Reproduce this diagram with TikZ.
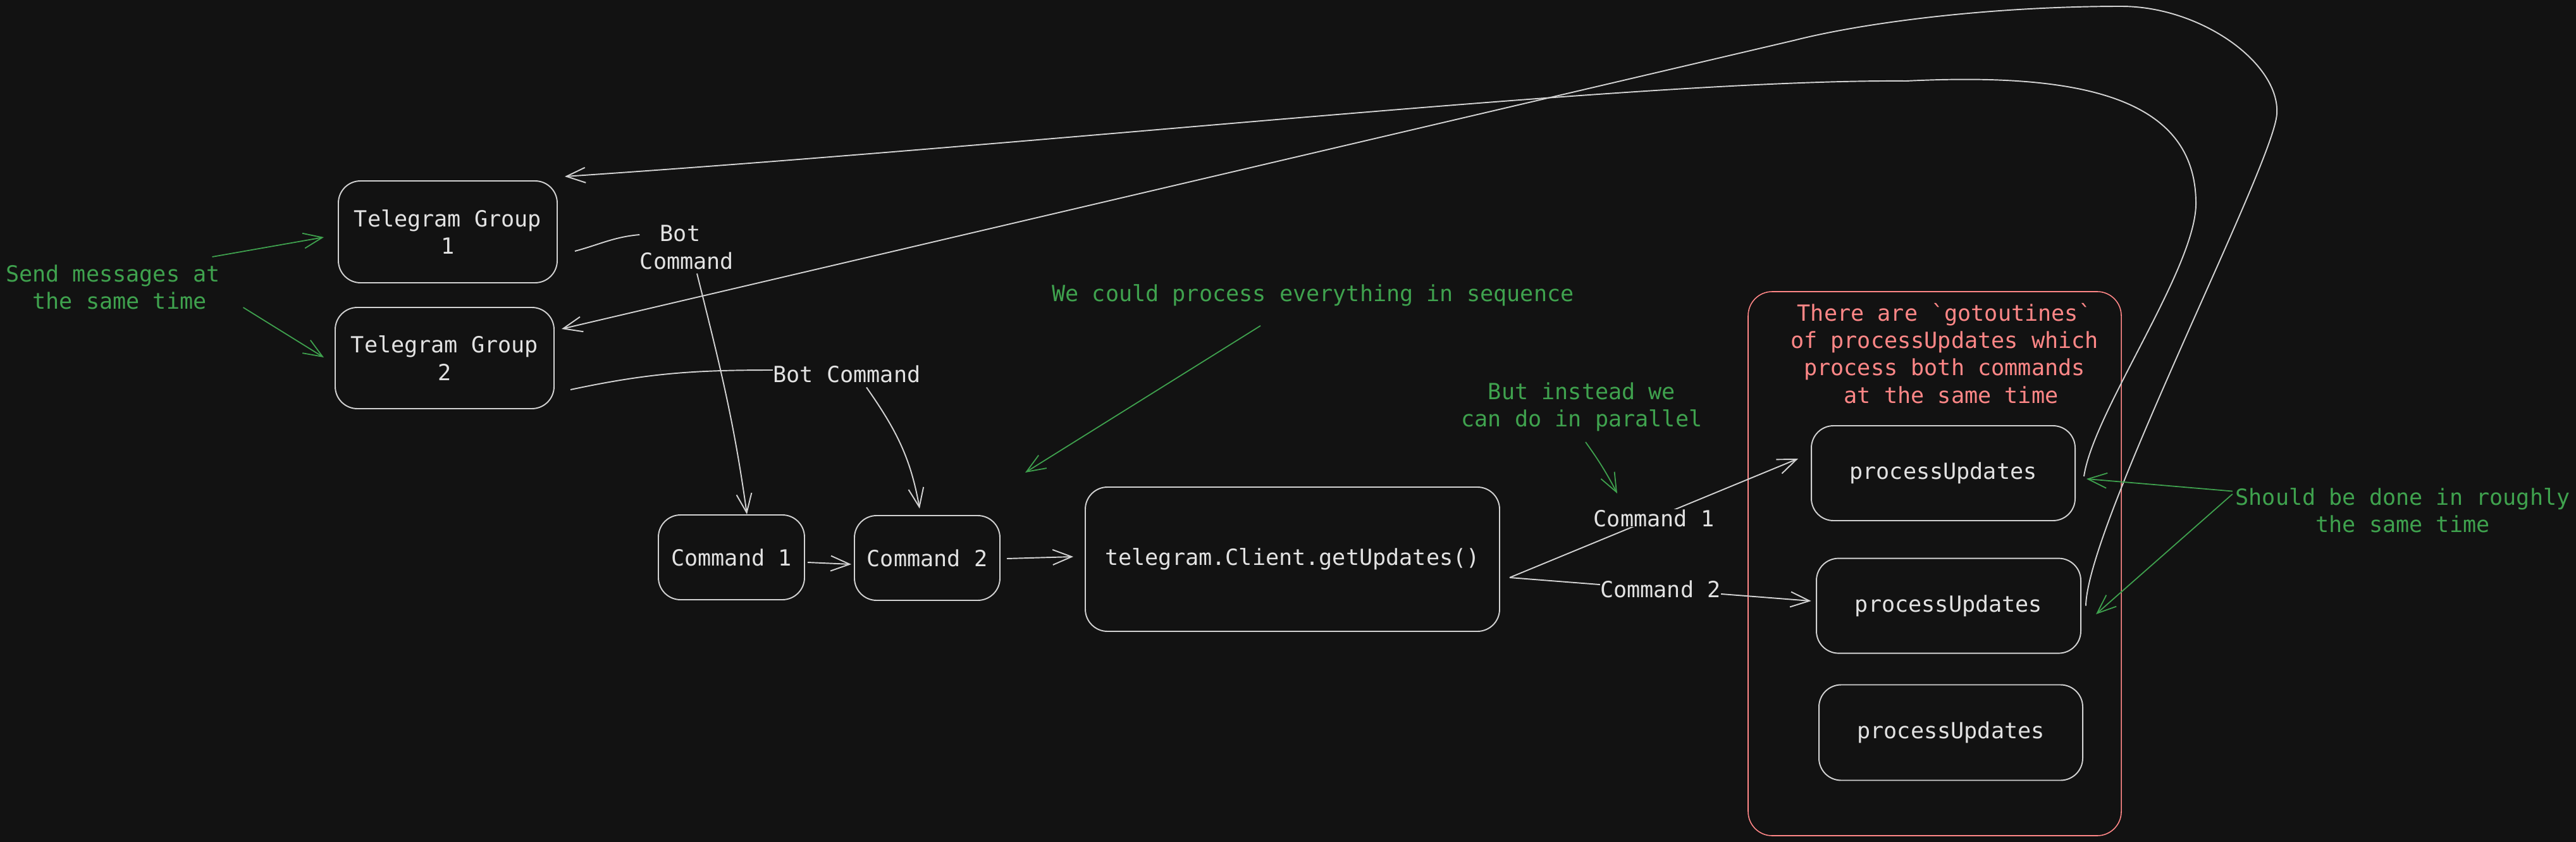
\documentclass[tikz,border=0pt]{standalone}
\usepackage{fontspec}
\setmonofont{DejaVu Sans Mono}
\usetikzlibrary{arrows.meta}
\definecolor{bg}{HTML}{121212}
\definecolor{ink}{HTML}{E2E2E2}
\definecolor{edge}{HTML}{D2D2D2}
\definecolor{note}{HTML}{3FA24E}
\definecolor{warn}{HTML}{FF8787}
\begin{document}
\begin{tikzpicture}[
    font=\ttfamily\fontsize{10}{12.3}\selectfont,
    box/.style={draw=edge, line width=0.55pt, rounded corners=0.35cm, text=ink, align=center},
    group/.style={draw=warn, line width=0.45pt, rounded corners=0.38cm},
    lbl/.style={text=ink, inner sep=0pt, align=center},
    onedge/.style={lbl, fill=bg},
    notetext/.style={text=note, inner sep=0pt, align=center},
    warntext/.style={text=warn, inner sep=0pt, align=center},
    link/.style={draw=edge, line width=0.55pt},
    arr/.style={link, -{Straight Barb[length=3mm,width=2.4mm]}},
    notearr/.style={draw=note, line width=0.5pt, -{Straight Barb[length=3mm,width=2.4mm]}}
  ]
      \useasboundingbox (0,0) rectangle (40.73,-13.31);
      \fill[bg] (0,0) rectangle (40.73,-13.31);
      % groups and commands
      \node[box, minimum width=3.46cm, minimum height=1.61cm] (tg1) at (7.08,-3.665) {Telegram Group\\1};
      \node[box, minimum width=3.46cm, minimum height=1.60cm] (tg2) at (7.03,-5.66) {Telegram Group\\2};
      \node[box, minimum width=2.31cm, minimum height=1.34cm] (cmd1) at (11.565,-8.81) {Command 1};
      \node[box, minimum width=2.30cm, minimum height=1.34cm] (cmd2) at (14.66,-8.82) {Command 2};
      \node[box, minimum width=6.55cm, minimum height=2.28cm] (gu) at (20.435,-8.84) {telegram.Client.getUpdates()};
      % goroutines
      \node[group, minimum width=5.90cm, minimum height=8.60cm] (grp) at (30.59,-8.91) {};
      \node[warntext] (grptxt) at (30.745,-5.585) {There are `gotoutines`\\of processUpdates which\\process both commands\\\phantom{x}at the same time};
      \node[box, minimum width=4.17cm, minimum height=1.50cm] (pu1) at (30.725,-7.48) {processUpdates};
      \node[box, minimum width=4.18cm, minimum height=1.50cm] (pu2) at (30.81,-9.576) {processUpdates};
      \node[box, minimum width=4.17cm, minimum height=1.51cm] (pu3) at (30.845,-11.58) {processUpdates};
      % labels and notes
      \node[lbl] (botA) at (10.86,-3.91) {Bot\phantom{x}\\Command};
      \node[lbl] (botB) at (13.39,-5.91) {Bot Command};
      \node[notetext] (send) at (1.89,-4.54) {Send messages at\phantom{x}\\the same time};
      \node[notetext] (seq) at (20.76,-4.67) {We could process everything in sequence};
      \node[notetext] (par) at (25.01,-6.435) {But instead we\\can do in parallel};
      \node[notetext] (should) at (37.99,-8.065) {Should be done in roughly\\the same time};
      \coordinate (seqtip) at (16.21,-7.47);
      \coordinate (partip) at (25.57,-7.80);
      \coordinate (fork) at ([shift={(0.15,-0.29)}]gu.east);
      % bot commands
      \draw[link] ([shift={(0.27,-0.305)}]tg1.east) to[out=15,in=185] ([yshift=0.2cm]botA.west);
      \draw[arr] ([shift={(0.16,-0.06)}]botA.south) to[out=-76,in=98] ([xshift=0.245cm]cmd1.north);
      \draw[link] ([shift={(0.25,-0.5)}]tg2.east) to[out=12,in=180] ([yshift=0.06cm]botB.west);
      \draw[arr] ([shift={(0.31,-0.07)}]botB.south) to[out=-55,in=100] ([shift={(-0.12,0.1)}]cmd2.north);
      \draw[arr] ([shift={(0.04,-0.08)}]cmd1.east) -- ([shift={(-0.04,-0.10)}]cmd2.west);
      \draw[arr] ([shift={(0.10,-0.01)}]cmd2.east) -- ([shift={(-0.18,0.04)}]gu.west);
      % parallel
      \draw[arr] (fork) -- node[onedge] {Command 1} ([shift={(-0.2,0.23)}]pu1.west);
      \draw[arr] (fork) -- node[onedge] {Command 2} ([shift={(-0.075,0.076)}]pu2.west);
      % replies
      \draw[arr] ([shift={(0.13,-0.05)}]pu1.east) .. controls (33.10,-6.50) and (34.75,-4.20) .. (34.72,-3.19)
        .. controls (34.70,-1.50) and (32.80,-1.15) .. (30.14,-1.28)
        .. controls (26.00,-1.25) and (17.00,-2.25) .. ([shift={(0.11,0.06)}]tg1.north east);
      \draw[arr] ([shift={(0.07,0)}]pu2.east) .. controls (33.00,-8.30) and (35.95,-2.60) .. (36.00,-1.80)
        .. controls (36.05,-1.00) and (34.80,-0.10) .. (33.54,-0.10)
        .. controls (31.50,-0.10) and (29.50,-0.35) .. (28.36,-0.64)
        -- ([shift={(0.11,0.46)}]tg2.east);
      % notes
      \draw[notearr] ([shift={(-0.34,0.48)}]send.east) -- ([shift={(-0.22,-0.085)}]tg1.west);
      \draw[notearr] ([shift={(0.15,-0.32)}]send.east) -- ([shift={(-0.17,0.01)}]tg2.west);
      \draw[notearr] ([shift={(-0.83,-0.3)}]seq.south) -- (seqtip);
      \draw[notearr] ([shift={(0.06,-0.16)}]par.south) to[bend left=4] (partip);
      \draw[notearr] ([shift={(-0.04,0.30)}]should.west) -- ([shift={(0.17,-0.09)}]pu1.east);
      \draw[notearr] ([shift={(-0.04,0.255)}]should.west) -- ([shift={(0.23,-0.134)}]pu2.east);
\end{tikzpicture}
\end{document}
